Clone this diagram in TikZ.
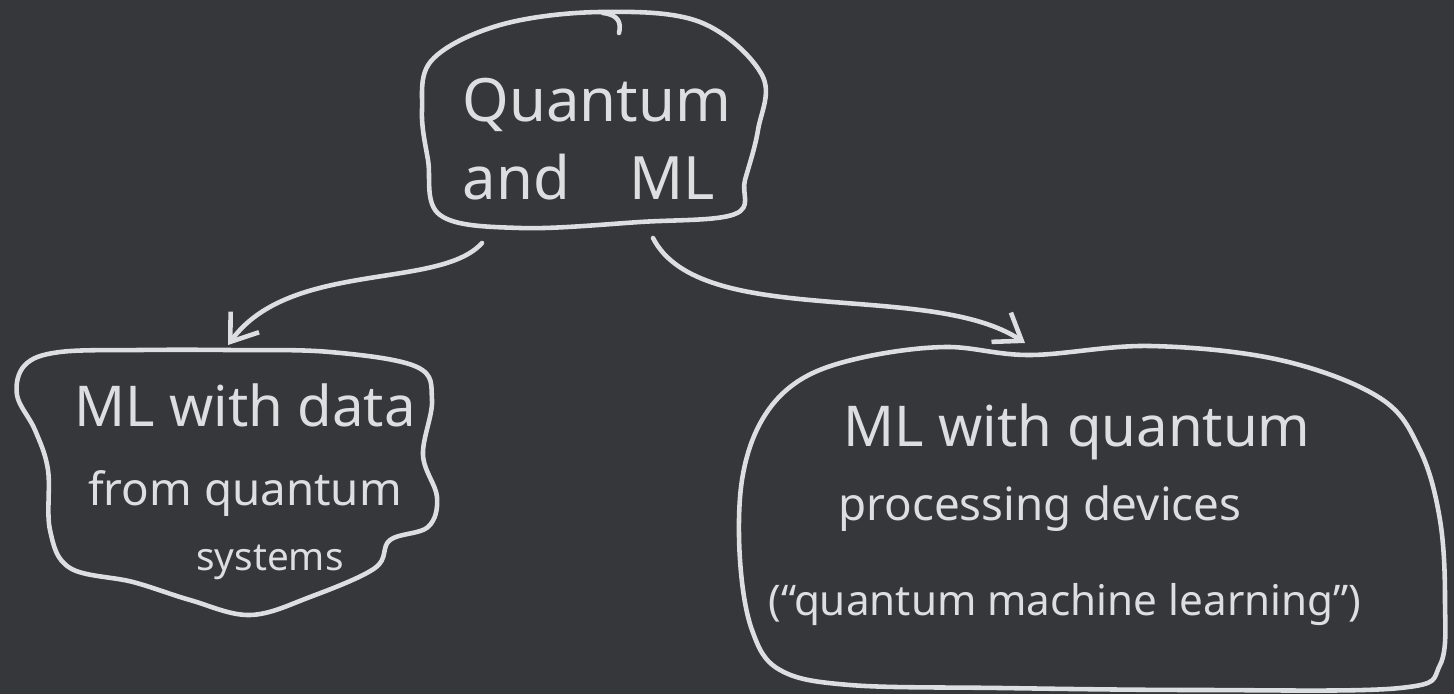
\documentclass[tikz,border=0pt]{standalone}
\usepackage{fontspec}
\setmainfont{Noto Sans}
\usetikzlibrary{arrows.meta}
\definecolor{board}{HTML}{35373A}
\definecolor{chalk}{HTML}{DCDEE0}
\tikzset{
  chalkline/.style={draw=chalk, line width=1.3pt, line cap=round, line join=round},
  outline/.style={chalkline, smooth cycle, tension=0.6},
  label/.style={text=chalk, align=center},
  link/.style={chalkline, -{Straight Barb[length=7pt, width=10pt]}},
}
\newcommand{\fs}[2]{\fontsize{#1}{#2}\selectfont}
\begin{document}
\begin{tikzpicture}[x=0.01cm, y=-0.01cm]
    % board
    \fill[board] (0,0) rectangle (1454,694);
    \useasboundingbox (0,0) rectangle (1454,694);
    % top box
    \node[label, align=left, font=\fs{17}{22pt}] (qml) at (597,139) {Quantum\\and\quad ML};
    \draw[outline] plot coordinates {(600,12) (700,22) (762,75) (758,130) (745,180) (735,214) (640,222) (520,228) (440,215) (428,160) (422,110) (432,60) (500,25)};
    \draw[chalkline] (603,13) .. controls (620,15) and (621,24) .. (619,33);
    % left box
    \node[label, font=\fs{13}{18.5pt}] (data) at (245,482)
        {{\fs{16}{18.5pt}ML with data}\\[4pt]from quantum\\{\fs{11}{18.5pt}\hspace*{0.5cm}systems}};
    \draw[outline] plot coordinates {(227,350) (330,352) (417,367) (432,400) (423,455) (437,497) (428,527) (390,540) (375,568) (310,597) (250,615) (190,600) (133,582) (70,568) (50,530) (48,470) (35,430) (17,395) (25,365) (60,352) (140,350)};
    % right box
    \node[label, font=\fs{13}{21pt}] (device) at (1065,515)
        {{\fs{16}{21pt}\hspace*{0.24cm}ML with quantum}\\\hspace*{-0.5cm}processing devices\\[6pt]{\fs{12}{21pt}(``quantum machine learning'')}};
    \draw[outline] plot coordinates {(1030,355) (1150,346) (1280,360) (1380,398) (1420,450) (1440,520) (1445,600) (1440,665) (1400,688) (1200,690) (1000,688) (850,685) (780,670) (752,630) (740,560) (742,480) (762,420) (800,380) (860,358) (945,347)};
    % arrows
    \coordinate (qmlL) at (482,243);
    \coordinate (qmlR) at (653,238);
    \coordinate (dataT) at (228,345);
    \coordinate (deviceT) at (1025,343);
    \draw[link] (qmlL) .. controls (440,290) and (290,260) .. (dataT);
    \draw[link] (qmlR) .. controls (700,330) and (930,280) .. (deviceT);
\end{tikzpicture}
\end{document}
